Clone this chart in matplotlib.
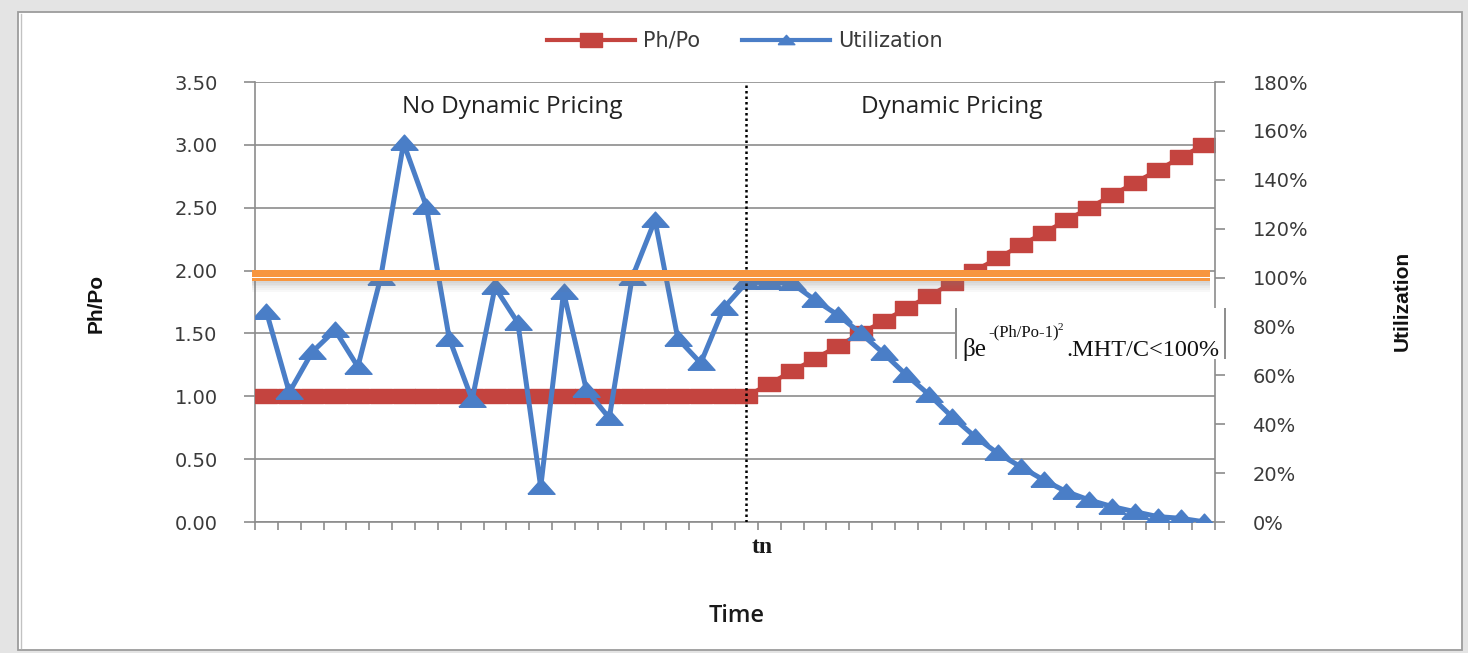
import matplotlib
matplotlib.use('Agg')
import matplotlib.pyplot as plt
from matplotlib.patches import Rectangle
from matplotlib.lines import Line2D
import matplotlib.transforms as mtransforms

# ---------------- data ----------------
periods = list(range(42))
tn_index = 21
ph_po = [1.00, 1.00, 1.00, 1.00, 1.00, 1.00, 1.00, 1.00, 1.00, 1.00, 1.00,
         1.00, 1.00, 1.00, 1.00, 1.00, 1.00, 1.00, 1.00, 1.00, 1.00, 1.00,
         1.10, 1.20, 1.30, 1.40, 1.50, 1.60, 1.70, 1.80, 1.90, 2.00,
         2.10, 2.20, 2.30, 2.40, 2.50, 2.60, 2.70, 2.80, 2.90, 3.00]
utilization = [86, 53, 69.5, 78.5, 63.5, 100, 155, 129, 75, 50, 96,
               81.5, 14.3, 94, 54, 42.5, 100, 123.5, 75, 65, 87.5, 98,
               98, 97.6, 90.8, 84.7, 77.2, 69, 60.1, 52, 43, 34.9,
               28.1, 22.6, 17.2, 12.4, 9, 6.3, 4.2, 2.2, 1.5, 0.1]
target_utilization = 100
left_ticks = [0.0, 0.5, 1.0, 1.5, 2.0, 2.5, 3.0, 3.5]
left_labels = ['0.00', '0.50', '1.00', '1.50', '2.00', '2.50', '3.00', '3.50']
right_ticks = [0, 20, 40, 60, 80, 100, 120, 140, 160, 180]
right_labels = ['0%', '20%', '40%', '60%', '80%', '100%', '120%', '140%', '160%', '180%']
series_names = ['Ph/Po', 'Utilization']
region_labels = ['No Dynamic Pricing', 'Dynamic Pricing']

# ---------------- style ----------------
W, H, DPI = 1468, 653, 100
RED = '#C4443F'
BLUE = '#4A7EC7'
ORANGE = '#F7963F'
GRID = '#8C8C8C'
TXT = '#3A3A3A'

def fx(px):
    return px / W

def fy(py):
    return 1 - py / H

rect_marker = [(-1, -0.62), (1, -0.62), (1, 0.62), (-1, 0.62), (-1, -0.62)]
tri_marker = [(-1, -0.5), (1, -0.5), (0, 0.62), (-1, -0.5)]

fig = plt.figure(figsize=(W / DPI, H / DPI), dpi=DPI, facecolor='#E4E4E4')

# outer frame
fig.add_artist(Rectangle((fx(18), fy(650)), fx(1462) - fx(18), fy(12) - fy(650),
                         transform=fig.transFigure, facecolor='white',
                         edgecolor='#9C9C9C', lw=1.3, zorder=-10))
fig.add_artist(Line2D([fx(21), fx(21)], [fy(14), fy(648)], transform=fig.transFigure,
                      color='#C2C2C2', lw=1.0, zorder=-9))

ax = fig.add_axes([fx(255), fy(522), fx(1215) - fx(255), fy(82) - fy(522)])
ax.set_xlim(-0.5, len(periods) - 0.5)
ax.set_ylim(left_ticks[0], left_ticks[-1])
ax.set_facecolor('none')
ax.plot(periods, ph_po, color=RED, lw=3, marker=rect_marker, ms=16.5,
        mfc=RED, mec=RED, zorder=3, solid_joinstyle='miter')
ax.set_yticks(left_ticks)
ax.set_yticklabels(left_labels)
ax.yaxis.grid(True, color=GRID, lw=1.2)
ax.set_axisbelow(True)
ax.set_xticks([p - 0.5 for p in periods] + [periods[-1] + 0.5])
ax.set_xticklabels([])
for s in ['top', 'right']:
    ax.spines[s].set_visible(False)
for s in ['left', 'bottom']:
    ax.spines[s].set_color(GRID)
    ax.spines[s].set_linewidth(1.2)
ax.tick_params(axis='y', length=8, width=1.2, color=GRID, pad=19,
               labelsize=14, labelcolor=TXT)
ax.tick_params(axis='x', length=6, width=1.2, color=GRID, direction='out')

ax2 = ax.twinx()
ax2.set_ylim(right_ticks[0], right_ticks[-1])
ax2.plot(periods, utilization, color=BLUE, lw=3.6, marker=tri_marker, ms=19.5,
         mfc=BLUE, mec=BLUE, zorder=3)
ax2.set_yticks(right_ticks)
ax2.set_yticklabels(right_labels)
for s in ['top', 'left', 'bottom']:
    ax2.spines[s].set_visible(False)
ax2.spines['right'].set_color(GRID)
ax2.spines['right'].set_linewidth(1.2)
ax2.tick_params(axis='y', length=7, width=1.2, color=GRID, pad=20,
                labelsize=14, labelcolor=TXT)

# tn marker line
ax2.axvline(periods[tn_index], color='black', ls=(0, (1, 1.2)), lw=1.8, zorder=4)
ax.text(periods[tn_index] + 0.68, -0.059, 'tn',
        transform=mtransforms.blended_transform_factory(ax.transData, ax.transAxes),
        ha='center', va='center', fontsize=17, fontweight='bold',
        family='Liberation Serif', color='#1a1a1a')

# orange 100% reference band with shadow
bt = mtransforms.blended_transform_factory(ax2.transAxes, ax2.transData)
x0, x1 = -0.003, 0.995
for k in range(6):
    ax2.add_patch(Rectangle((x0, 98.6 - (k + 1) * 0.75), x1 - x0, 0.75, transform=bt,
                            facecolor='#7A7A7A', alpha=0.3 * (1 - k / 6), lw=0,
                            zorder=5, clip_on=False))
ax2.add_patch(Rectangle((x0, 98.6), x1 - x0, 4.5, transform=bt, facecolor=ORANGE,
                        lw=0, zorder=6, clip_on=False))
ax2.add_patch(Rectangle((x0, 99.8), x1 - x0, 0.55, transform=bt, facecolor='white',
                        lw=0, zorder=7, clip_on=False))

# legend
handles = [Line2D([], [], color=RED, lw=3, marker=rect_marker, ms=16, mfc=RED, mec=RED),
           Line2D([], [], color=BLUE, lw=3, marker=tri_marker, ms=12, mfc=BLUE, mec=BLUE)]
fig.legend(handles, series_names, loc='center', bbox_to_anchor=(fx(745), fy(41)),
           ncol=2, frameon=False, fontsize=15, handlelength=4.2, handletextpad=0.4,
           columnspacing=2.0, labelcolor=TXT)

# region labels
fig.text(fx(512), fy(107), region_labels[0], ha='center', va='center', fontsize=17.5,
         family='Open Sans', color='#222222')
fig.text(fx(952), fy(107), region_labels[1], ha='center', va='center', fontsize=17.5,
         family='Open Sans', color='#222222')

# axis titles
fig.text(fx(96), fy(303), 'Ph/Po', rotation=90, ha='center', va='center', fontsize=15,
         fontweight='bold', family=['Liberation Sans Narrow', 'Liberation Sans'], color='#111111')
fig.text(fx(1402), fy(301), 'Utilization', rotation=90, ha='center', va='center', fontsize=15,
         fontweight='bold', family=['Liberation Sans Narrow', 'Liberation Sans'], color='#111111')
fig.text(fx(737), fy(616), 'Time', ha='center', va='center', fontsize=17,
         family='Open Sans', fontweight='semibold', color='#1a1a1a')

# formula box
fig.add_artist(Rectangle((fx(955), fy(359)), fx(1226) - fx(955), fy(308) - fy(359),
                         transform=fig.transFigure, facecolor='white', lw=0, zorder=8))
for xa, xb in [(955, 957.5), (1223.5, 1226)]:
    fig.add_artist(Rectangle((fx(xa), fy(359)), fx(xb) - fx(xa), fy(308) - fy(359),
                             transform=fig.transFigure, facecolor='#8F8F8F', lw=0, zorder=9))
ff = 'Liberation Serif'
fig.text(fx(962), fy(356), 'βe', ha='left', va='baseline', fontsize=18, family=ff,
         color='#111111', zorder=10)
fig.text(fx(988), fy(336), '-(Ph/Po-1)', ha='left', va='baseline', fontsize=12, family=ff,
         color='#111111', zorder=10)
fig.text(fx(1058), fy(330), '2', ha='left', va='baseline', fontsize=8, family=ff,
         color='#111111', zorder=10)
fig.text(fx(1066), fy(356), '.MHT/C<100%', ha='left', va='baseline', fontsize=17.5, family=ff,
         color='#111111', zorder=10)

fig.savefig('out.png', dpi=DPI, facecolor=fig.get_facecolor())
